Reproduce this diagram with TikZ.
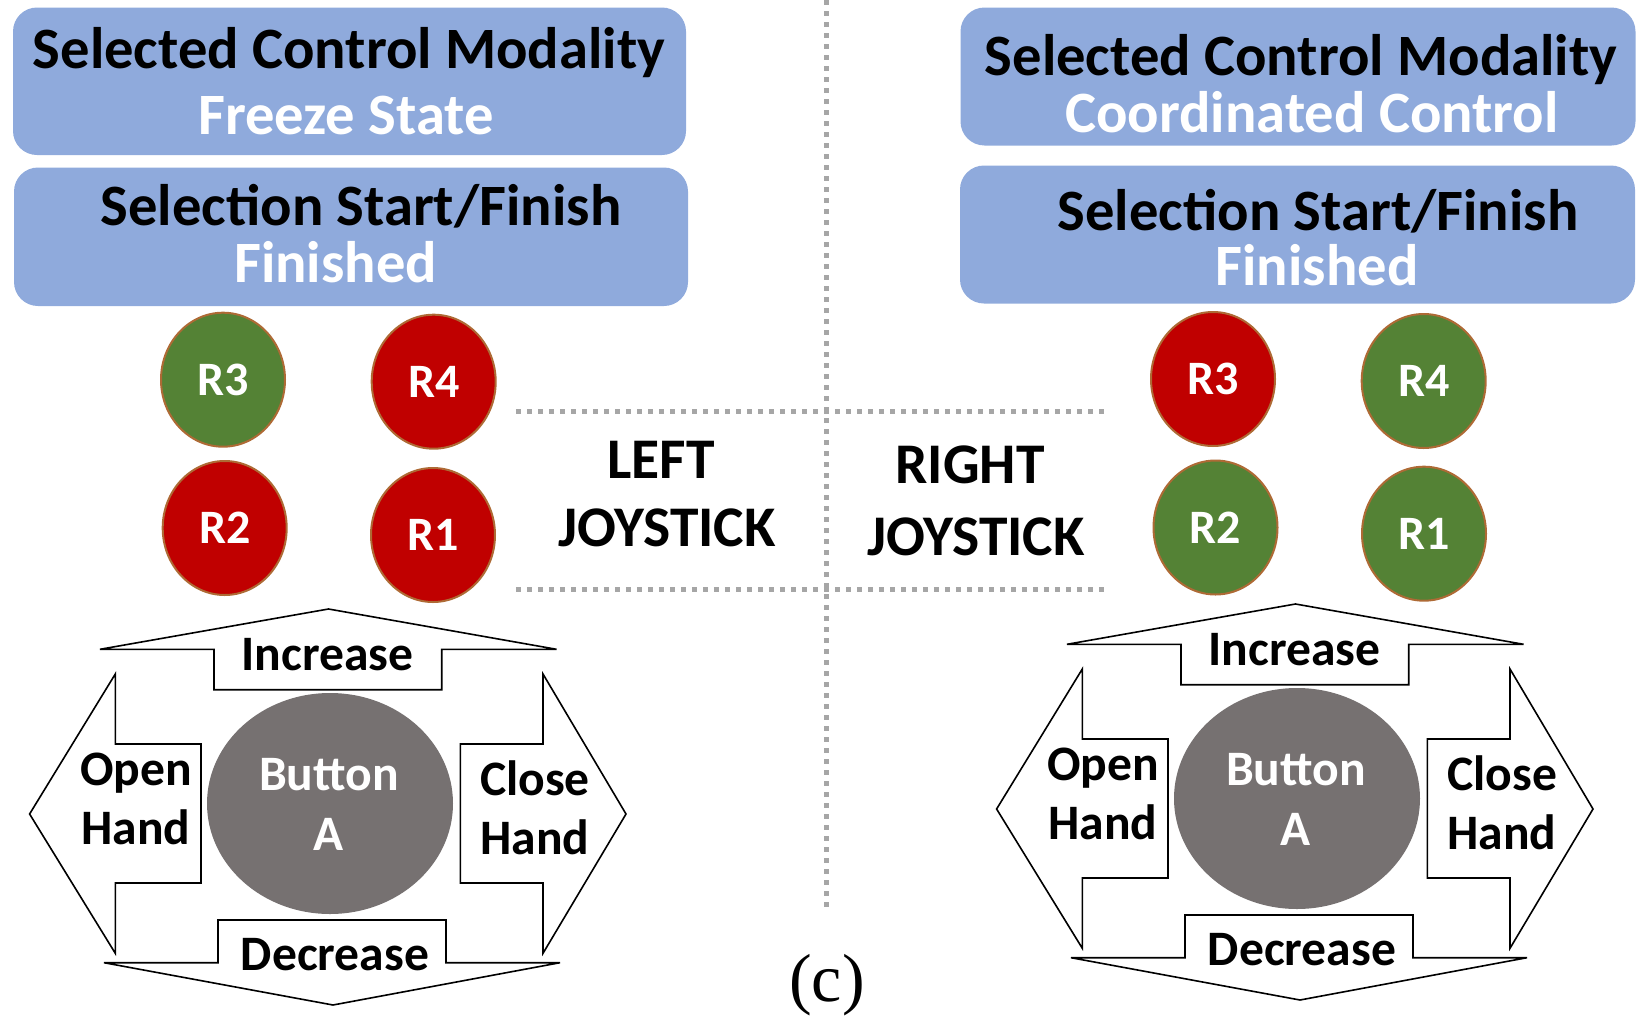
\documentclass[tikz,border=0pt]{standalone}
\usepackage{fontspec}
\setmainfont{Carlito}
\newfontfamily\capfont{Liberation Serif}
\usetikzlibrary{shapes.geometric}
\definecolor{boxblue}{HTML}{8FAADC}
\definecolor{rgreen}{HTML}{548235}
\definecolor{rred}{HTML}{C00000}
\definecolor{rline}{HTML}{AE6A35}
\definecolor{btngrey}{HTML}{767171}
\definecolor{dotgrey}{HTML}{A6A6A6}
\tikzset{
  panel/.style={rectangle, fill=boxblue, draw=none, rounded corners=24pt, inner sep=0pt, outer sep=0pt},
  bigtxt/.style={font=\fontsize{58.6}{60}\selectfont\bfseries, inner sep=0pt, anchor=base},
  joytxt/.style={font=\fontsize{57.5}{60}\selectfont\bfseries, inner sep=0pt, anchor=base},
  midtxt/.style={font=\fontsize{49.6}{52}\selectfont\bfseries, inner sep=0pt, anchor=base},
  relay/.style={ellipse, minimum width=124pt, minimum height=134pt, inner sep=0pt, draw=rline, line width=2pt, text=white, font=\fontsize{48}{50}\selectfont\bfseries},
  relayon/.style={relay, fill=rgreen},
  relayoff/.style={relay, fill=rred},
  arrowshape/.style={draw=black, fill=white, line width=1.6pt, line join=miter},
  btnshape/.style={ellipse, fill=btngrey, draw=none, minimum width=246pt, minimum height=221pt, inner sep=0pt},
  dotline/.style={draw=dotgrey, line width=5pt, dash pattern=on 5pt off 6pt},
}
\newcommand\padcluster[3]{%
  \begin{scope}[shift={(#2,#3)}]
    \draw[arrowshape] (214,689.7) -- (214,649.3) -- (100,649.3) -- (328.5,609) -- (556.6,649.3) -- (441.7,649.3) -- (441.7,689.7) -- cycle;
    \draw[arrowshape] (218,920) -- (446,920) -- (446,962.7) -- (560,962.7) -- (333,1005) -- (104,962.7) -- (218,962.7) -- cycle;
    \draw[arrowshape] (201,744) -- (115.3,744) -- (115.3,674) -- (29.6,814) -- (115.3,953.3) -- (115.3,883) -- (201,883) -- cycle;
    \draw[arrowshape] (460.3,744) -- (543,744) -- (543,674) -- (626,814) -- (543,953.3) -- (543,883) -- (460.3,883) -- cycle;
    \node[btnshape] (#1btn) at (330,803.5) {};
    \node[midtxt, text=white] (#1btnA) at (329,790) {Button};
    \node[midtxt, text=white] (#1btnB) at (329,850) {A};
    \node[midtxt] (#1inc) at (327.5,670) {Increase};
    \node[midtxt] (#1dec) at (335,970) {Decrease};
    \node[midtxt] (#1openA) at (136,785) {Open};
    \node[midtxt] (#1openB) at (136,844) {Hand};
    \node[midtxt] (#1closeA) at (535,795) {Close};
    \node[midtxt] (#1closeB) at (535,854) {Hand};
  \end{scope}}
\begin{document}
\begin{tikzpicture}[x=1pt, y=-1pt]
  \useasboundingbox (0,0) rectangle (1650,1020);
  % dotted separators
  \coordinate (vtop) at (826.5,0);
  \coordinate (vbot) at (826.5,912);
  \coordinate (h1a) at (515.8,411);
  \coordinate (h1b) at (1104,411);
  \coordinate (h2a) at (515.8,589);
  \coordinate (h2b) at (1104,589);
  \draw[dotline] (vtop) -- (vbot);
  \draw[dotline] (h1a) -- (h1b);
  \draw[dotline] (h2a) -- (h2b);
  % left panels
  \node[panel, minimum width=673pt, minimum height=147.5pt] (L1) at (349.5,81.25) {};
  \node[bigtxt] (L1a) at (349,68) {Selected Control Modality};
  \node[bigtxt, text=white] (L1b) at (346,134.5) {Freeze State};
  \node[panel, minimum width=674pt, minimum height=138.5pt] (L2) at (351,236.75) {};
  \node[bigtxt] (L2a) at (361,225) {Selection Start/Finish};
  \node[bigtxt, text=white] (L2b) at (335.6,282.5) {Finished};
  % right panels
  \node[panel, minimum width=675pt, minimum height=138pt] (R1) at (1298,76.5) {};
  \node[bigtxt] (R1a) at (1301,75) {Selected Control Modality};
  \node[bigtxt, text=white] (R1b) at (1312,132.7) {Coordinated Control};
  \node[panel, minimum width=675pt, minimum height=138pt] (R2) at (1297.5,234.5) {};
  \node[bigtxt] (R2a) at (1318,230) {Selection Start/Finish};
  \node[bigtxt, text=white] (R2b) at (1317,285) {Finished};
  % relays left
  \node[relayon] (lR3) at (223,379.7) {R3};
  \node[relayoff] (lR4) at (433.7,381.7) {R4};
  \node[relayoff] (lR2) at (224.7,528) {R2};
  \node[relayoff] (lR1) at (433,535) {R1};
  % relays right
  \node[relayoff] (rR3) at (1213,379) {R3};
  \node[relayon] (rR4) at (1423.7,381) {R4};
  \node[relayon] (rR2) at (1215.5,527.5) {R2};
  \node[relayon] (rR1) at (1424,533.7) {R1};
  % joystick labels
  \node[joytxt] (leftA) at (661,478.3) {LEFT};
  \node[joytxt] (leftB) at (667,546.7) {JOYSTICK};
  \node[joytxt] (rightA) at (970,483.3) {RIGHT};
  \node[joytxt] (rightB) at (976,555) {JOYSTICK};
  % button clusters
  \padcluster{lp}{0}{0}
  \padcluster{rp}{967}{-5}
  % caption
  \node[font=\capfont\fontsize{68}{70}\selectfont, inner sep=0pt, anchor=base] (cap) at (827,1001) {(c)};
\end{tikzpicture}
\end{document}
